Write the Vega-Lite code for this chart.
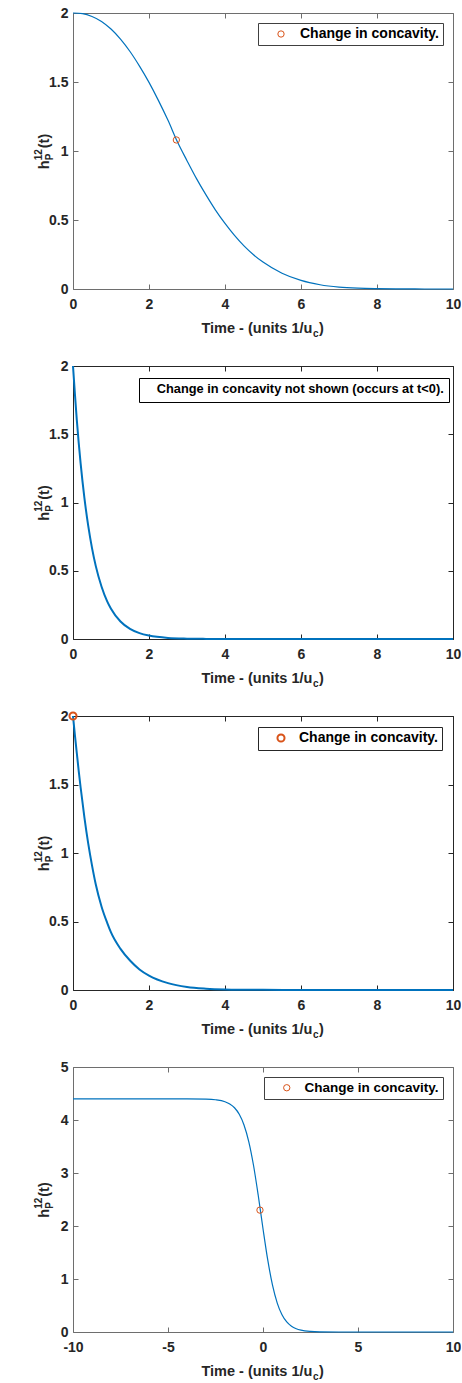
{
  "$schema": "https://vega.github.io/schema/vega-lite/v6.json",
  "background": "white",
  "padding": {"left": 33, "top": 6, "right": 0, "bottom": 0},
  "datasets": {
    "p1": [
      {"t": 0, "h": 2}, {"t": 0.25, "h": 1.995}, {"t": 0.5, "h": 1.975}, {"t": 0.75, "h": 1.939},
      {"t": 1, "h": 1.884}, {"t": 1.25, "h": 1.811}, {"t": 1.5, "h": 1.721}, {"t": 1.75, "h": 1.615},
      {"t": 2, "h": 1.497}, {"t": 2.25, "h": 1.365}, {"t": 2.5, "h": 1.222}, {"t": 2.75, "h": 1.065},
      {"t": 3, "h": 0.93}, {"t": 3.25, "h": 0.8}, {"t": 3.5, "h": 0.682}, {"t": 3.75, "h": 0.572},
      {"t": 4, "h": 0.475}, {"t": 4.25, "h": 0.388}, {"t": 4.5, "h": 0.312}, {"t": 4.75, "h": 0.248},
      {"t": 5, "h": 0.195}, {"t": 5.5, "h": 0.114}, {"t": 6, "h": 0.062}, {"t": 6.5, "h": 0.031},
      {"t": 7, "h": 0.014}, {"t": 7.5, "h": 0.006}, {"t": 8, "h": 0.0025}, {"t": 8.5, "h": 0.0009},
      {"t": 9, "h": 0.0003}, {"t": 9.5, "h": 0.0001}, {"t": 10, "h": 0}
    ],
    "p1pt": [{"t": 2.72, "h": 1.08}],
    "p2": [
      {"t": 0, "h": 2}, {"t": 0.05, "h": 1.796}, {"t": 0.1, "h": 1.605}, {"t": 0.15, "h": 1.438},
      {"t": 0.2, "h": 1.288}, {"t": 0.3, "h": 1.034}, {"t": 0.4, "h": 0.83}, {"t": 0.5, "h": 0.666},
      {"t": 0.6, "h": 0.534}, {"t": 0.75, "h": 0.385}, {"t": 0.9, "h": 0.276}, {"t": 1, "h": 0.222},
      {"t": 1.25, "h": 0.128}, {"t": 1.5, "h": 0.074}, {"t": 1.75, "h": 0.043}, {"t": 2, "h": 0.025},
      {"t": 2.5, "h": 0.008}, {"t": 3, "h": 0.0027}, {"t": 3.5, "h": 0.0009}, {"t": 4, "h": 0.0003},
      {"t": 5, "h": 0}, {"t": 6, "h": 0}, {"t": 8, "h": 0}, {"t": 10, "h": 0}
    ],
    "p3": [
      {"t": 0, "h": 2}, {"t": 0.05, "h": 1.86}, {"t": 0.1, "h": 1.73}, {"t": 0.15, "h": 1.6},
      {"t": 0.2, "h": 1.48}, {"t": 0.3, "h": 1.26}, {"t": 0.4, "h": 1.07}, {"t": 0.5, "h": 0.91},
      {"t": 0.6, "h": 0.77}, {"t": 0.75, "h": 0.61}, {"t": 0.9, "h": 0.49}, {"t": 1, "h": 0.42},
      {"t": 1.25, "h": 0.3}, {"t": 1.5, "h": 0.215}, {"t": 1.75, "h": 0.15}, {"t": 2, "h": 0.105},
      {"t": 2.5, "h": 0.05}, {"t": 3, "h": 0.022}, {"t": 3.5, "h": 0.01}, {"t": 4, "h": 0.0045},
      {"t": 5, "h": 0.001}, {"t": 6, "h": 0.0002}, {"t": 7, "h": 0}, {"t": 10, "h": 0}
    ],
    "p3pt": [{"t": 0, "h": 2}],
    "p4": [
      {"t": -10, "h": 4.4}, {"t": -8, "h": 4.4}, {"t": -6, "h": 4.4}, {"t": -5, "h": 4.4},
      {"t": -4, "h": 4.3994}, {"t": -3, "h": 4.394}, {"t": -2.5, "h": 4.382}, {"t": -2, "h": 4.345},
      {"t": -1.75, "h": 4.303}, {"t": -1.5, "h": 4.231}, {"t": -1.25, "h": 4.108}, {"t": -1, "h": 3.907},
      {"t": -0.75, "h": 3.594}, {"t": -0.5, "h": 3.146}, {"t": -0.25, "h": 2.576}, {"t": 0, "h": 1.948},
      {"t": 0.25, "h": 1.359}, {"t": 0.5, "h": 0.884}, {"t": 0.75, "h": 0.546}, {"t": 1, "h": 0.325},
      {"t": 1.25, "h": 0.189}, {"t": 1.5, "h": 0.108}, {"t": 1.75, "h": 0.062}, {"t": 2, "h": 0.035},
      {"t": 2.5, "h": 0.011}, {"t": 3, "h": 0.0035}, {"t": 4, "h": 0.0003}, {"t": 5, "h": 0},
      {"t": 7, "h": 0}, {"t": 10, "h": 0}
    ],
    "p4pt": [{"t": -0.16, "h": 2.3}]
  },
  "vconcat": [
    {
      "width": 380, "height": 276,
      "layer": [
        {"data": {"name": "p1"}, "mark": {"type": "line", "color": "#0072BD", "strokeWidth": 1.2, "interpolate": "monotone"},
          "encoding": {
            "x": {"field": "t", "type": "quantitative", "scale": {"domain": [0, 10], "nice": false, "zero": false},
              "axis": {"orient": "bottom", "values": [0, 2, 4, 6, 8, 10], "ticks": false, "tickSize": 0, "domainColor": "#6e6e6e", "labelPadding": 8, "labelExpr": "toString(datum.value)", "title": "Time - (units 1/u", "titleX": 128, "titleY": 43, "titleAlign": "left", "titleBaseline": "alphabetic"}},
            "y": {"field": "h", "type": "quantitative", "scale": {"domain": [0, 2], "nice": false, "zero": false},
              "axis": {"orient": "left", "values": [0, 0.5, 1, 1.5, 2], "ticks": false, "tickSize": 0, "domainColor": "#6e6e6e", "labelPadding": 5, "labelExpr": "toString(datum.value)", "title": "h\u00a0\u00a0\u00a0(t)", "titleX": -25, "titleY": 138, "titleAlign": "center", "titleBaseline": "alphabetic", "titleAngle": -90}}
          }},
        {"data": {"name": "p1"}, "mark": {"type": "line", "opacity": 0},
          "encoding": {
            "x": {"field": "t", "type": "quantitative", "axis": {"orient": "top", "values": [0, 2, 4, 6, 8, 10], "labels": false, "tickSize": -5, "tickColor": "#6e6e6e", "domainColor": "#6e6e6e", "title": null}},
            "y": {"field": "h", "type": "quantitative", "axis": {"orient": "right", "values": [0, 0.5, 1, 1.5, 2], "labels": false, "tickSize": -5, "tickColor": "#6e6e6e", "domainColor": "#6e6e6e", "title": null}}
          }},
        {"data": {"name": "p1"}, "mark": {"type": "line", "opacity": 0},
          "encoding": {
            "x": {"field": "t", "type": "quantitative", "axis": {"orient": "bottom", "values": [0, 2, 4, 6, 8, 10], "labels": false, "tickSize": -5, "tickColor": "#6e6e6e", "domain": false, "title": "c", "titleFontSize": 10, "titleX": 239.5, "titleY": 47, "titleAlign": "left", "titleBaseline": "alphabetic"}},
            "y": {"field": "h", "type": "quantitative", "axis": {"orient": "left", "values": [0, 0.5, 1, 1.5, 2], "labels": false, "tickSize": -5, "tickColor": "#6e6e6e", "domain": false, "title": "12", "titleFontSize": 10, "titleX": -32, "titleY": 141.3, "titleAlign": "center", "titleBaseline": "alphabetic", "titleAngle": -90}}
          }},
        {"data": {"name": "p1"}, "mark": {"type": "line", "opacity": 0},
          "encoding": {
            "x": {"field": "t", "type": "quantitative", "axis": {"orient": "bottom", "labels": false, "ticks": false, "domain": false, "title": ")", "titleX": 245.5, "titleY": 43, "titleAlign": "left", "titleBaseline": "alphabetic"}},
            "y": {"field": "h", "type": "quantitative", "axis": {"orient": "left", "labels": false, "ticks": false, "domain": false, "title": "P", "titleFontSize": 10, "titleX": -21, "titleY": 143.5, "titleAlign": "center", "titleBaseline": "alphabetic", "titleAngle": -90}}
          }},
        {"data": {"name": "p1pt"}, "mark": {"type": "point", "shape": "circle", "filled": false, "size": 40, "strokeWidth": 1, "opacity": 1},
          "encoding": {
            "x": {"field": "t", "type": "quantitative", "axis": null},
            "y": {"field": "h", "type": "quantitative", "axis": null},
            "color": {"datum": "Change in concavity.", "scale": {"range": ["#D95319"]},
              "legend": {"title": null, "orient": "top-right", "offset": 10, "padding": 4, "strokeColor": "#404040", "labelFontSize": 14, "symbolType": "circle", "symbolSize": 40, "symbolStrokeWidth": 1, "symbolFillColor": "transparent", "symbolOffset": 12, "labelOffset": 12}}
          }}
      ],
      "resolve": {"axis": {"x": "independent", "y": "independent"}}
    },
    {
      "width": 380, "height": 273,
      "layer": [
        {"data": {"name": "p2"}, "mark": {"type": "line", "color": "#0072BD", "strokeWidth": 2, "interpolate": "monotone"},
          "encoding": {
            "x": {"field": "t", "type": "quantitative", "scale": {"domain": [0, 10], "nice": false, "zero": false},
              "axis": {"orient": "bottom", "values": [0, 2, 4, 6, 8, 10], "ticks": false, "tickSize": 0, "labelPadding": 8, "labelExpr": "toString(datum.value)", "title": "Time - (units 1/u", "titleX": 128, "titleY": 43, "titleAlign": "left", "titleBaseline": "alphabetic"}},
            "y": {"field": "h", "type": "quantitative", "scale": {"domain": [0, 2], "nice": false, "zero": false},
              "axis": {"orient": "left", "values": [0, 0.5, 1, 1.5, 2], "ticks": false, "tickSize": 0, "labelPadding": 5, "labelExpr": "toString(datum.value)", "title": "h\u00a0\u00a0\u00a0(t)", "titleX": -25, "titleY": 136.5, "titleAlign": "center", "titleBaseline": "alphabetic", "titleAngle": -90}}
          }},
        {"data": {"name": "p2"}, "mark": {"type": "line", "opacity": 0},
          "encoding": {
            "x": {"field": "t", "type": "quantitative", "axis": {"orient": "top", "values": [0, 2, 4, 6, 8, 10], "labels": false, "tickSize": -5, "title": null}},
            "y": {"field": "h", "type": "quantitative", "axis": {"orient": "right", "values": [0, 0.5, 1, 1.5, 2], "labels": false, "tickSize": -5, "title": null}}
          }},
        {"data": {"name": "p2"}, "mark": {"type": "line", "opacity": 0},
          "encoding": {
            "x": {"field": "t", "type": "quantitative", "axis": {"orient": "bottom", "values": [0, 2, 4, 6, 8, 10], "labels": false, "tickSize": -5, "domain": false, "title": "c", "titleFontSize": 10, "titleX": 239.5, "titleY": 47, "titleAlign": "left", "titleBaseline": "alphabetic"}},
            "y": {"field": "h", "type": "quantitative", "axis": {"orient": "left", "values": [0, 0.5, 1, 1.5, 2], "labels": false, "tickSize": -5, "domain": false, "title": "12", "titleFontSize": 10, "titleX": -32, "titleY": 139.8, "titleAlign": "center", "titleBaseline": "alphabetic", "titleAngle": -90}}
          }},
        {"data": {"name": "p2"}, "mark": {"type": "line", "opacity": 0},
          "encoding": {
            "x": {"field": "t", "type": "quantitative", "axis": {"orient": "bottom", "labels": false, "ticks": false, "domain": false, "title": ")", "titleX": 245.5, "titleY": 43, "titleAlign": "left", "titleBaseline": "alphabetic"}},
            "y": {"field": "h", "type": "quantitative", "axis": {"orient": "left", "labels": false, "ticks": false, "domain": false, "title": "P", "titleFontSize": 10, "titleX": -21, "titleY": 142, "titleAlign": "center", "titleBaseline": "alphabetic", "titleAngle": -90}}
          }},
        {"data": {"values": []}, "mark": {"type": "point", "filled": false},
          "encoding": {
            "color": {"datum": "Change in concavity not shown (occurs at t<0).", "scale": {"range": ["#D95319"]},
              "legend": {"title": null, "orient": "none", "legendX": 66, "legendY": 12, "padding": 5, "strokeColor": "#000000", "labelFontSize": 12.8, "symbolSize": 0, "symbolOpacity": 0, "labelOffset": 0}}
          }}
      ],
      "resolve": {"axis": {"x": "independent", "y": "independent"}}
    },
    {
      "width": 380, "height": 274,
      "layer": [
        {"data": {"name": "p3"}, "mark": {"type": "line", "color": "#0072BD", "strokeWidth": 2, "interpolate": "monotone"},
          "encoding": {
            "x": {"field": "t", "type": "quantitative", "scale": {"domain": [0, 10], "nice": false, "zero": false},
              "axis": {"orient": "bottom", "values": [0, 2, 4, 6, 8, 10], "ticks": false, "tickSize": 0, "labelPadding": 8, "labelExpr": "toString(datum.value)", "title": "Time - (units 1/u", "titleX": 128, "titleY": 43, "titleAlign": "left", "titleBaseline": "alphabetic"}},
            "y": {"field": "h", "type": "quantitative", "scale": {"domain": [0, 2], "nice": false, "zero": false},
              "axis": {"orient": "left", "values": [0, 0.5, 1, 1.5, 2], "ticks": false, "tickSize": 0, "labelPadding": 5, "labelExpr": "toString(datum.value)", "title": "h\u00a0\u00a0\u00a0(t)", "titleX": -25, "titleY": 137, "titleAlign": "center", "titleBaseline": "alphabetic", "titleAngle": -90}}
          }},
        {"data": {"name": "p3"}, "mark": {"type": "line", "opacity": 0},
          "encoding": {
            "x": {"field": "t", "type": "quantitative", "axis": {"orient": "top", "values": [0, 2, 4, 6, 8, 10], "labels": false, "tickSize": -5, "title": null}},
            "y": {"field": "h", "type": "quantitative", "axis": {"orient": "right", "values": [0, 0.5, 1, 1.5, 2], "labels": false, "tickSize": -5, "title": null}}
          }},
        {"data": {"name": "p3"}, "mark": {"type": "line", "opacity": 0},
          "encoding": {
            "x": {"field": "t", "type": "quantitative", "axis": {"orient": "bottom", "values": [0, 2, 4, 6, 8, 10], "labels": false, "tickSize": -5, "domain": false, "title": "c", "titleFontSize": 10, "titleX": 239.5, "titleY": 47, "titleAlign": "left", "titleBaseline": "alphabetic"}},
            "y": {"field": "h", "type": "quantitative", "axis": {"orient": "left", "values": [0, 0.5, 1, 1.5, 2], "labels": false, "tickSize": -5, "domain": false, "title": "12", "titleFontSize": 10, "titleX": -32, "titleY": 140.3, "titleAlign": "center", "titleBaseline": "alphabetic", "titleAngle": -90}}
          }},
        {"data": {"name": "p3"}, "mark": {"type": "line", "opacity": 0},
          "encoding": {
            "x": {"field": "t", "type": "quantitative", "axis": {"orient": "bottom", "labels": false, "ticks": false, "domain": false, "title": ")", "titleX": 245.5, "titleY": 43, "titleAlign": "left", "titleBaseline": "alphabetic"}},
            "y": {"field": "h", "type": "quantitative", "axis": {"orient": "left", "labels": false, "ticks": false, "domain": false, "title": "P", "titleFontSize": 10, "titleX": -21, "titleY": 142.5, "titleAlign": "center", "titleBaseline": "alphabetic", "titleAngle": -90}}
          }},
        {"data": {"name": "p3pt"}, "mark": {"type": "point", "shape": "circle", "filled": false, "size": 50, "strokeWidth": 2, "opacity": 1},
          "encoding": {
            "x": {"field": "t", "type": "quantitative", "axis": null},
            "y": {"field": "h", "type": "quantitative", "axis": null},
            "color": {"datum": "Change in concavity.", "scale": {"range": ["#D95319"]},
              "legend": {"title": null, "orient": "top-right", "offset": 11, "padding": 4, "strokeColor": "#262626", "labelFontSize": 14, "symbolType": "circle", "symbolSize": 50, "symbolStrokeWidth": 2, "symbolFillColor": "transparent", "symbolOffset": 12, "labelOffset": 11}}
          }}
      ],
      "resolve": {"axis": {"x": "independent", "y": "independent"}}
    },
    {
      "width": 380, "height": 265,
      "layer": [
        {"data": {"name": "p4"}, "mark": {"type": "line", "color": "#0072BD", "strokeWidth": 1.2, "interpolate": "monotone"},
          "encoding": {
            "x": {"field": "t", "type": "quantitative", "scale": {"domain": [-10, 10], "nice": false, "zero": false},
              "axis": {"orient": "bottom", "values": [-10, -5, 0, 5, 10], "ticks": false, "tickSize": 0, "domainColor": "#6e6e6e", "labelPadding": 8, "labelExpr": "toString(datum.value)", "title": "Time - (units 1/u", "titleX": 128, "titleY": 43, "titleAlign": "left", "titleBaseline": "alphabetic"}},
            "y": {"field": "h", "type": "quantitative", "scale": {"domain": [0, 5], "nice": false, "zero": false},
              "axis": {"orient": "left", "values": [0, 1, 2, 3, 4, 5], "ticks": false, "tickSize": 0, "domainColor": "#6e6e6e", "labelPadding": 5, "labelExpr": "toString(datum.value)", "title": "h\u00a0\u00a0\u00a0(t)", "titleX": -25, "titleY": 132.5, "titleAlign": "center", "titleBaseline": "alphabetic", "titleAngle": -90}}
          }},
        {"data": {"name": "p4"}, "mark": {"type": "line", "opacity": 0},
          "encoding": {
            "x": {"field": "t", "type": "quantitative", "axis": {"orient": "top", "values": [-10, -5, 0, 5, 10], "labels": false, "tickSize": -5, "tickColor": "#6e6e6e", "domainColor": "#6e6e6e", "title": null}},
            "y": {"field": "h", "type": "quantitative", "axis": {"orient": "right", "values": [0, 1, 2, 3, 4, 5], "labels": false, "tickSize": -5, "tickColor": "#6e6e6e", "domainColor": "#6e6e6e", "title": null}}
          }},
        {"data": {"name": "p4"}, "mark": {"type": "line", "opacity": 0},
          "encoding": {
            "x": {"field": "t", "type": "quantitative", "axis": {"orient": "bottom", "values": [-10, -5, 0, 5, 10], "labels": false, "tickSize": -5, "tickColor": "#6e6e6e", "domain": false, "title": "c", "titleFontSize": 10, "titleX": 239.5, "titleY": 47, "titleAlign": "left", "titleBaseline": "alphabetic"}},
            "y": {"field": "h", "type": "quantitative", "axis": {"orient": "left", "values": [0, 1, 2, 3, 4, 5], "labels": false, "tickSize": -5, "tickColor": "#6e6e6e", "domain": false, "title": "12", "titleFontSize": 10, "titleX": -32, "titleY": 135.8, "titleAlign": "center", "titleBaseline": "alphabetic", "titleAngle": -90}}
          }},
        {"data": {"name": "p4"}, "mark": {"type": "line", "opacity": 0},
          "encoding": {
            "x": {"field": "t", "type": "quantitative", "axis": {"orient": "bottom", "labels": false, "ticks": false, "domain": false, "title": ")", "titleX": 245.5, "titleY": 43, "titleAlign": "left", "titleBaseline": "alphabetic"}},
            "y": {"field": "h", "type": "quantitative", "axis": {"orient": "left", "labels": false, "ticks": false, "domain": false, "title": "P", "titleFontSize": 10, "titleX": -21, "titleY": 138, "titleAlign": "center", "titleBaseline": "alphabetic", "titleAngle": -90}}
          }},
        {"data": {"name": "p4pt"}, "mark": {"type": "point", "shape": "circle", "filled": false, "size": 40, "strokeWidth": 1, "opacity": 1},
          "encoding": {
            "x": {"field": "t", "type": "quantitative", "axis": null},
            "y": {"field": "h", "type": "quantitative", "axis": null},
            "color": {"datum": "Change in concavity.", "scale": {"range": ["#D95319"]},
              "legend": {"title": null, "orient": "top-right", "offset": 10, "padding": 4, "strokeColor": "#404040", "labelFontSize": 13.5, "symbolType": "circle", "symbolSize": 40, "symbolStrokeWidth": 1, "symbolFillColor": "transparent", "symbolOffset": 12, "labelOffset": 11}}
          }}
      ],
      "resolve": {"axis": {"x": "independent", "y": "independent"}}
    }
  ],
  "spacing": 77,
  "bounds": "flush",
  "resolve": {"scale": {"color": "independent"}, "legend": {"color": "independent"}},
  "config": {
    "font": "Liberation Sans",
    "view": {"stroke": null},
    "axis": {
      "grid": false,
      "labelFont": "Liberation Sans", "labelFontSize": 14, "labelFontWeight": "bold", "labelColor": "#262626",
      "titleFont": "Liberation Sans", "titleFontSize": 14.5, "titleFontWeight": "bold", "titleColor": "#262626",
      "domainColor": "#262626", "tickColor": "#262626", "domainWidth": 1, "tickWidth": 1,
      "labelFlush": false, "labelOverlap": false, "labelBound": false
    },
    "legend": {
      "labelFont": "Liberation Sans", "labelFontWeight": "bold", "labelColor": "#000000",
      "fillColor": "white", "cornerRadius": 0, "labelLimit": 0
    }
  }
}
